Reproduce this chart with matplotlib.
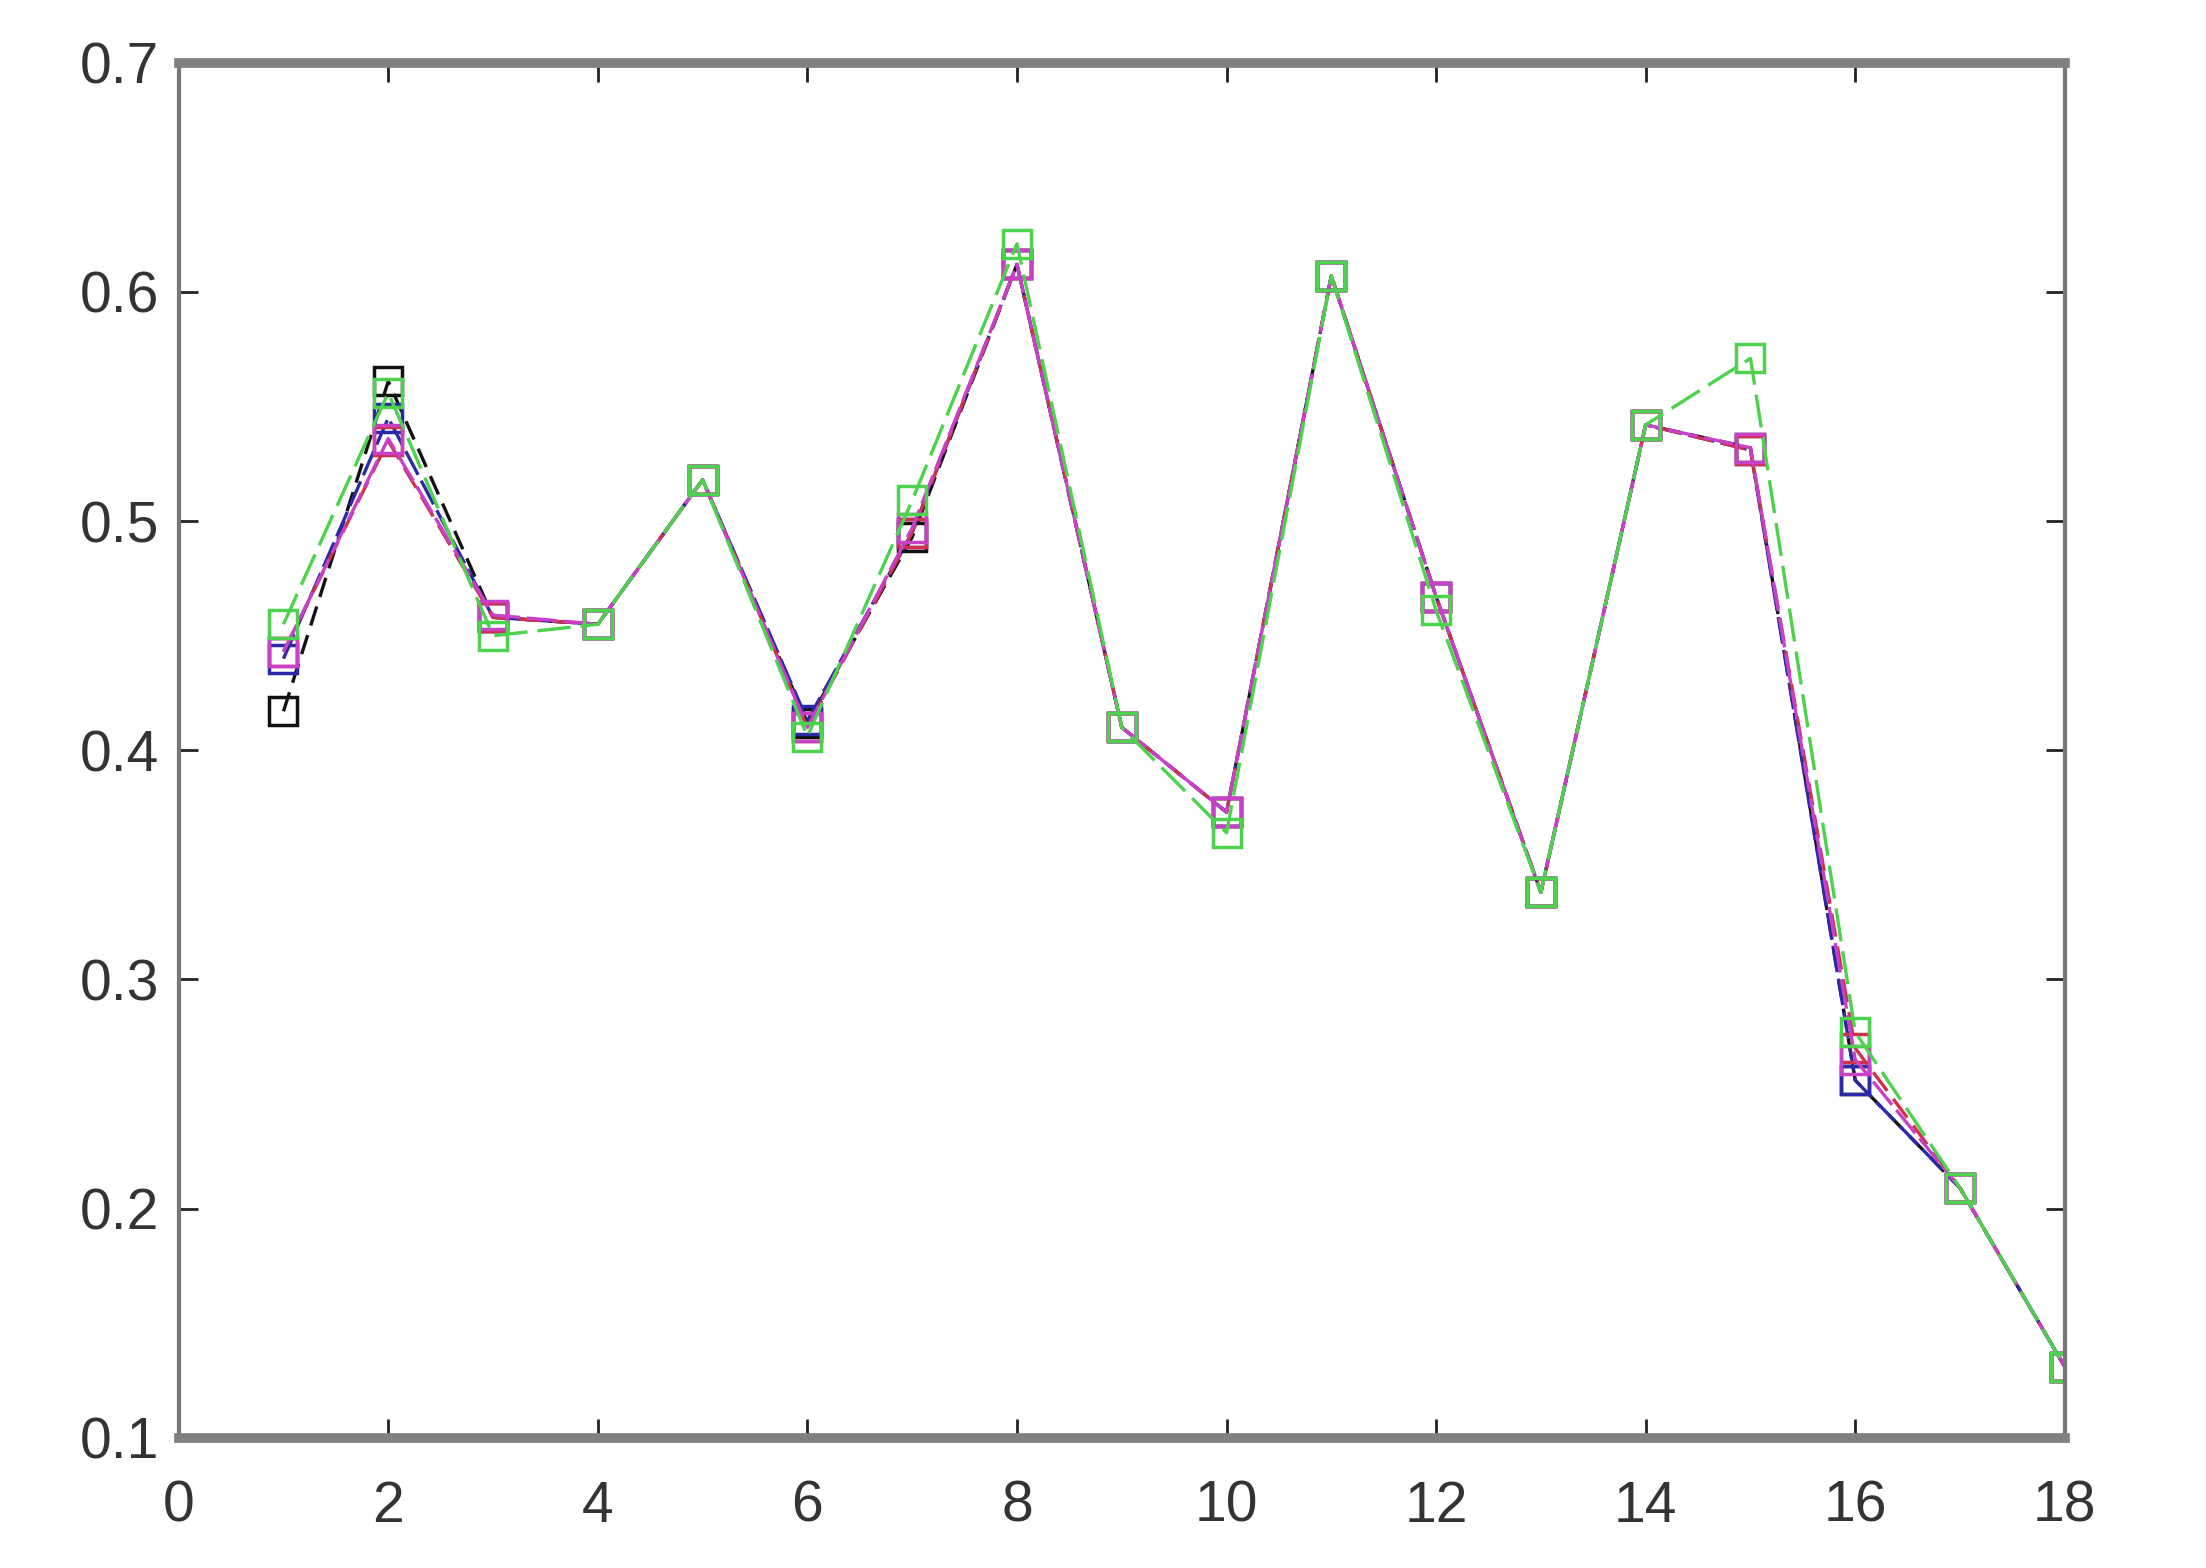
import matplotlib.pyplot as plt
import numpy as np

plt.rcParams['font.family'] = ['Liberation Sans', 'DejaVu Sans']

x = np.arange(1, 19)

# values, one list per trace
black = [0.417, 0.561, 0.458, 0.455, 0.518, 0.412, 0.493, 0.612, 0.410, 0.373,
         0.607, 0.467, 0.338, 0.542, 0.532, 0.256, 0.209, 0.131]
blue = [0.440, 0.545, 0.458, 0.455, 0.518, 0.413, 0.495, 0.612, 0.410, 0.373,
        0.607, 0.467, 0.338, 0.542, 0.531, 0.256, 0.209, 0.131]
red = [0.443, 0.535, 0.458, 0.455, 0.518, 0.410, 0.495, 0.612, 0.410, 0.373,
       0.607, 0.467, 0.338, 0.542, 0.531, 0.270, 0.209, 0.131]
magenta = [0.443, 0.536, 0.459, 0.455, 0.518, 0.410, 0.497, 0.612, 0.410, 0.373,
           0.607, 0.467, 0.338, 0.542, 0.532, 0.265, 0.209, 0.131]
green = [0.455, 0.556, 0.450, 0.455, 0.518, 0.406, 0.509, 0.621, 0.410, 0.364,
         0.607, 0.461, 0.338, 0.542, 0.571, 0.277, 0.209, 0.131]

series = [
    (black, '#111111', (0, (6, 3))),
    (blue, '#2a2aa8', (0, (8, 2))),
    (red, '#d0304a', (0, (7, 3))),
    (magenta, '#c840c8', (0, (9, 2))),
    (green, '#4cd24c', (0, (10, 3))),
]

fig = plt.figure(figsize=(22.06, 15.68), dpi=100)
ax = fig.add_axes([0.081, 0.083, 0.855, 0.877])

for vals, col, ls in series:
    ax.plot(x, vals, color=col, linestyle=ls, linewidth=2.4,
            marker='s', markersize=20, markerfacecolor='none',
            markeredgecolor=col, markeredgewidth=2.5)

ax.set_xlim(0, 18)
ax.set_ylim(0.1, 0.7)
ax.set_xticks(np.arange(0, 19, 2))
ax.set_yticks([0.1, 0.2, 0.3, 0.4, 0.5, 0.6, 0.7])
ax.set_yticklabels(['0.1', '0.2', '0.3', '0.4', '0.5', '0.6', '0.7'])

ax.tick_params(direction='in', length=14, width=2, labelsize=41,
               top=True, right=True, colors='#222222', labelcolor='#333333')
ax.tick_params(axis='x', pad=30)
ax.tick_params(axis='y', pad=14)

for side in ['left', 'right']:
    ax.spines[side].set_color('#777777')
    ax.spines[side].set_linewidth(3)
for side in ['top', 'bottom']:
    ax.spines[side].set_color('#808080')
    ax.spines[side].set_linewidth(7)

fig.savefig('out.png', dpi=100)
